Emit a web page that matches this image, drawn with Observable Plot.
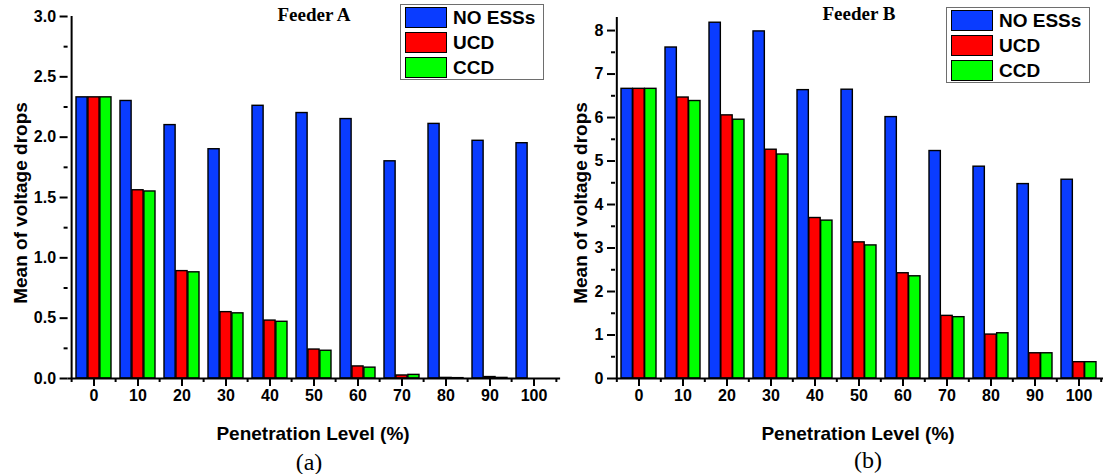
<!DOCTYPE html>
<html>
<head>
<meta charset="utf-8">
<script src="https://cdn.jsdelivr.net/npm/d3@7"></script>
<script src="https://cdn.jsdelivr.net/npm/@observablehq/plot@0.6"></script>
<style>
  body { margin: 0; background: #fff; }
  #fig { position: relative; width: 1103px; height: 474px; overflow: hidden;
         font-family: "Liberation Sans", Arial, sans-serif; color: #000; background: #fff; }
  #fig svg { position: absolute; top: 0; }
  .lbl { position: absolute; white-space: nowrap; line-height: 1; transform: translate(-50%, -50%); }
  .ytitle { font-weight: bold; font-size: 19px; transform: translate(-50%, -50%) rotate(-90deg); }
  .xtitle { font-weight: bold; font-size: 19px; }
  .feeder { font-family: "Liberation Serif", "Times New Roman", serif; font-weight: bold; font-size: 19px; }
  .sub { font-family: "Liberation Serif", "Times New Roman", serif; font-size: 24px; }
  .legend { position: absolute; box-sizing: border-box; width: 144px; height: 76px;
            border: 1.5px solid #6e6e6e; background: #fff; }
  .legend .sw { position: absolute; left: 4px; width: 42px; height: 21px; box-sizing: border-box;
                border: 1.5px solid #000; }
  .legend .tx { position: absolute; left: 52px; font-weight: bold; font-size: 19px; line-height: 21px; }
</style>
</head>
<body>
<div id="fig"></div>
<script>
// Penetration levels (%) on the x axis
const levels = [0, 10, 20, 30, 40, 50, 60, 70, 80, 90, 100];

// Scenarios and their bar colours
const seriesNames = ["NO ESSs", "UCD", "CCD"];
const seriesColors = ["#0a3cff", "#ff0000", "#00ff00"];

// Feeder A: mean of voltage drops
const feederA_noESS = [2.33, 2.30, 2.10, 1.90, 2.26, 2.20, 2.15, 1.80, 2.11, 1.97, 1.95];
const feederA_ucd   = [2.33, 1.56, 0.89, 0.55, 0.48, 0.24, 0.10, 0.025, 0.005, 0.012, 0];
const feederA_ccd   = [2.33, 1.55, 0.88, 0.54, 0.47, 0.23, 0.09, 0.03, 0.003, 0.005, 0];

// Feeder B: mean of voltage drops
const feederB_noESS = [6.66, 7.61, 8.18, 7.98, 6.63, 6.64, 6.01, 5.23, 4.87, 4.47, 4.57];
const feederB_ucd   = [6.66, 6.46, 6.05, 5.26, 3.69, 3.13, 2.42, 1.44, 1.01, 0.58, 0.375];
const feederB_ccd   = [6.66, 6.38, 5.95, 5.15, 3.63, 3.06, 2.35, 1.41, 1.04, 0.58, 0.375];

// Y axis ticks
const yTicksA = [0, 0.5, 1.0, 1.5, 2.0, 2.5, 3.0];
const yMinorA = [0.25, 0.75, 1.25, 1.75, 2.25, 2.75];
const yTicksB = [0, 1, 2, 3, 4, 5, 6, 7, 8];
const yMinorB = [0.5, 1.5, 2.5, 3.5, 4.5, 5.5, 6.5, 7.5];

const fig = document.getElementById("fig");

function panel({values, yMax, yTicks, yMinor, yFormat, left, width, marginLeft, marginRight, marginTop}) {
  const rows = levels.flatMap((level, i) =>
    seriesNames.map((series, k) => ({level, series, value: values[k][i]})));
  const paddingInner = 0.2, paddingOuter = 0.1;
  const step = (width - marginLeft - marginRight) / (levels.length - paddingInner + 2 * paddingOuter);
  const bw = step * (1 - paddingInner);
  const height = 474;
  // one bar per scenario, side by side inside each level's band
  const bars = seriesNames.map((s, k) => Plot.barY(rows.filter(d => d.series === s), {
    x: "level", y: "value", fill: seriesColors[k], stroke: "#000", strokeWidth: 1.4,
    insetLeft: k * bw / 3, insetRight: (2 - k) * bw / 3
  }));
  const svg = Plot.plot({
    width, height, marginLeft, marginRight, marginTop, marginBottom: 96,
    style: {background: "transparent", overflow: "visible", color: "#000",
            fontFamily: "'Liberation Sans', Arial, sans-serif"},
    x: {type: "band", domain: levels, paddingInner, paddingOuter, align: 0.5},
    y: {domain: [0, yMax]},
    marks: [
      ...bars,
      Plot.ruleY([0], {stroke: "#000", strokeWidth: 2}),
      Plot.ruleX([levels[0]], {y1: 0, y2: yMax, dx: -step / 2, stroke: "#000", strokeWidth: 2}),
      Plot.axisY(yTicks, {tickSize: 8, tickPadding: 4, tickFormat: yFormat, strokeWidth: 2,
                          fontSize: 16, fontWeight: "bold", label: null}),
      Plot.axisY(yMinor, {tickSize: 4, text: null, strokeWidth: 2, label: null}),
      Plot.axisX(levels, {tickSize: 8, tickPadding: 3, strokeWidth: 2,
                          fontSize: 16, fontWeight: "bold", label: null}),
      // minor ticks on the band boundaries
      Plot.axisX(levels, {tickSize: 4, text: null, strokeWidth: 2, dx: -step / 2, label: null}),
      Plot.axisX([levels[levels.length - 1]], {tickSize: 4, text: null, strokeWidth: 2, dx: step / 2, label: null})
    ]
  });
  svg.style.left = left + "px";
  fig.appendChild(svg);
}

panel({
  values: [feederA_noESS, feederA_ucd, feederA_ccd],
  yMax: 3.0, yTicks: yTicksA, yMinor: yMinorA, yFormat: d3.format(".1f"),
  left: 0, width: 565, marginLeft: 67.6, marginRight: 4.9, marginTop: 16
});
panel({
  values: [feederB_noESS, feederB_ucd, feederB_ccd],
  yMax: 8.3, yTicks: yTicksB, yMinor: yMinorB, yFormat: d3.format("d"),
  left: 560, width: 543, marginLeft: 55, marginRight: 0, marginTop: 17
});

function label(text, x, y, cls) {
  const el = document.createElement("div");
  el.className = "lbl " + cls;
  el.textContent = text;
  el.style.left = x + "px";
  el.style.top = y + "px";
  fig.appendChild(el);
}

function legend(x, y) {
  const box = document.createElement("div");
  box.className = "legend";
  box.style.left = x + "px";
  box.style.top = y + "px";
  seriesNames.forEach((name, k) => {
    const sw = document.createElement("div");
    sw.className = "sw";
    sw.style.top = (2 + k * 25) + "px";
    sw.style.background = seriesColors[k];
    const tx = document.createElement("div");
    tx.className = "tx";
    tx.style.top = (2 + k * 25) + "px";
    tx.textContent = name;
    box.appendChild(sw);
    box.appendChild(tx);
  });
  fig.appendChild(box);
}

label("Mean of voltage drops", 20, 203, "ytitle");
label("Mean of voltage drops", 580, 203, "ytitle");
label("Penetration Level (%)", 313, 433, "xtitle");
label("Penetration Level (%)", 858, 433, "xtitle");
label("(a)", 309, 462, "sub");
label("(b)", 868, 460, "sub");
label("Feeder A", 314, 14, "feeder");
label("Feeder B", 859, 13, "feeder");
legend(400, 4);
legend(946, 7);
</script>
</body>
</html>
